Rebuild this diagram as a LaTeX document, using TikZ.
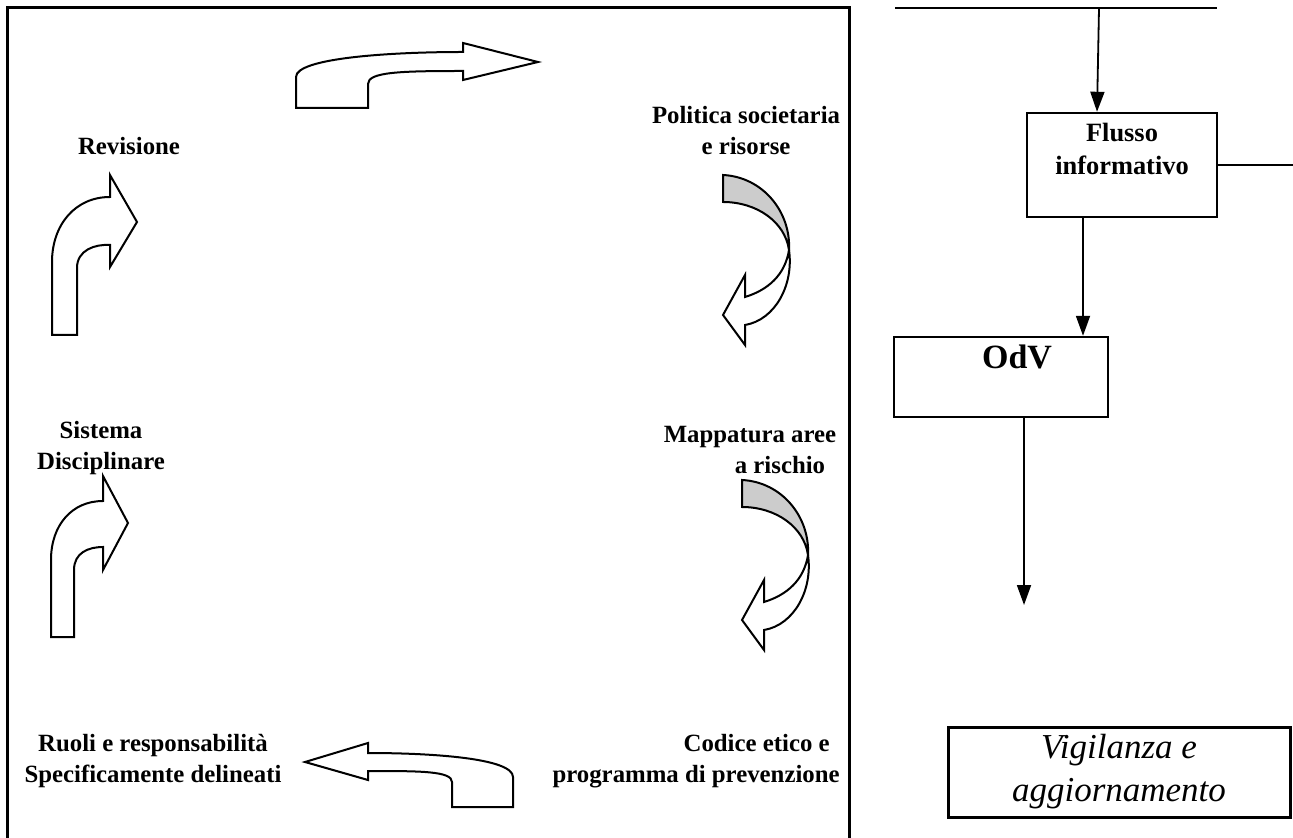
\documentclass[tikz,border=0pt]{standalone}
\usepackage{fontspec}
\setmainfont{Liberation Serif}
\usetikzlibrary{arrows.meta}
\begin{document}
\begin{tikzpicture}[x=0.5pt,y=-0.5pt,
  lbl/.style={font=\fontsize{12.4}{15.5}\selectfont\bfseries, align=center, inner sep=0pt},
  shp/.style={draw=black, line width=1pt, fill=white, line join=miter},
  back/.style={draw=black, line width=1pt, fill=black!20},
  conn/.style={line width=0.9pt, -{Triangle[length=10pt,width=7pt]}},
  plain/.style={line width=1pt},
  box/.style={draw=black, line width=1.2pt, inner sep=0pt}
]
\useasboundingbox (0,0) rectangle (1293,838);
% main frame
\draw[line width=1.5pt] (7,838) -- (7,8) -- (849,8) -- (849,838);

% left labels
\node[lbl] (rev) at (129,146) {Revisione};
\node[lbl] (pol) at (746,131) {Politica societaria\\e risorse};
\node[lbl] (sis) at (101,448) {Sistema\\Disciplinare};
\node[lbl] (map) at (750,450) {Mappatura aree\\\hspace*{30pt}a rischio};
\node[lbl] (ruo) at (153,761) {Ruoli e responsabilità\\Specificamente delineati};
\node[lbl, align=right, anchor=east] (cod) at (840,761) {Codice etico e\hspace*{5pt}\\programma di prevenzione};

% top arrow (to the right)
\draw[shp] (296,108) -- (296,77) .. controls (296,58) and (390,52) .. (463,52)
  -- (463,43) -- (538,62) -- (463,80) -- (463,71)
  .. controls (400,71) and (368,72) .. (368,84) -- (368,108) -- cycle;

% Revisione arrow
\draw[shp] (52,335) -- (52,262) .. controls (52,225) and (75,197) .. (110,197)
  -- (110,175) -- (137,222) -- (110,267) -- (110,245)
  .. controls (95,244) and (77,250) .. (77,268) -- (77,335) -- cycle;

% Sistema arrow
\draw[shp] (51,637) -- (51,560) .. controls (51,525) and (72,501) .. (103,501)
  -- (103,476) -- (128,523) -- (103,570) -- (103,547)
  .. controls (88,547) and (74,553) .. (74,570) -- (74,637) -- cycle;

% bottom arrow (to the left)
\draw[shp] (452,807) -- (513,807) -- (513,777) .. controls (513,758) and (430,753) .. (368,753)
  -- (368,743) -- (305,762) -- (368,780) -- (368,771)
  .. controls (420,771) and (452,771) .. (452,782) -- cycle;

% curved down arrows
\foreach \dx/\dy in {0/0, 19/305}{
\begin{scope}[shift={(\dx,\dy)}]
\draw[shp] (789,250) .. controls (794,285) and (775,320) .. (745,325)
  -- (745,345) -- (723,315) -- (745,275) -- (745,297)
  .. controls (768,290) and (785,275) .. (789,250);
\draw[back] (723,175) -- (723,202) .. controls (757,202) and (785,222) .. (789,250)
  .. controls (791,212) and (763,177) .. (723,175) -- cycle;
\end{scope}
}

% right panel
\coordinate (tl) at (895,8);
\coordinate (tr) at (1217,8);
\coordinate (ttop) at (1099,8);
\coordinate (re) at (1293,165);
\coordinate (vend) at (1024,605);
\draw[plain] (tl) -- (tr);

\node[box, minimum width=95pt, minimum height=52pt] (flusso) at (1122,165) {};
\node[lbl, font=\fontsize{13.2}{16.5}\selectfont\bfseries] (flussot) at (1122,149) {Flusso\\informativo};
\node[box, minimum width=107pt, minimum height=40pt] (odv) at (1001,377) {};
\node[lbl, font=\fontsize{17}{20}\selectfont\bfseries] (odvt) at (1017,357) {OdV};
\node[box, line width=1.5pt, minimum width=171pt, minimum height=45pt,
  font=\fontsize{17.5}{21.5}\selectfont\itshape, align=center] (vig) at (1119,772)
  {Vigilanza e\\aggiornamento};

\draw[conn] (ttop) -- ([xshift=-12.5pt]flusso.north);
\draw[plain] (flusso.east) -- (re);
\draw[conn] ([xshift=-19.5pt]flusso.south) -- ([xshift=-19.5pt]flusso.south |- odv.north);
\draw[conn] (vend |- odv.south) -- (vend);
\end{tikzpicture}
\end{document}
